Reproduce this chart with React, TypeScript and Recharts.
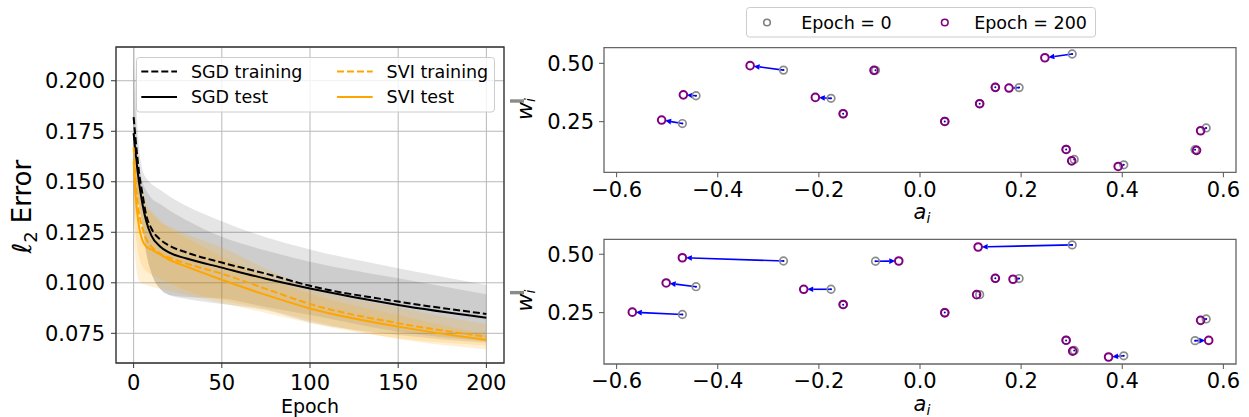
import React from "react";
import {
  ComposedChart,
  ScatterChart,
  Line,
  Area,
  Scatter,
  XAxis,
  YAxis,
  CartesianGrid,
  ReferenceArea,
  ReferenceLine,
  Legend,
} from "recharts";

const FONT = "'DejaVu Sans', 'Liberation Sans', sans-serif";

// ---- left panel: l2 error vs epoch (mean lines and spread bands) ----
const epochs = [0, 1, 2, 3, 5, 7, 10, 15, 20, 30, 50, 75, 100, 150, 200];

const sgdTrain = [0.182, 0.172, 0.163, 0.155, 0.144, 0.134, 0.127, 0.1215, 0.1185, 0.115, 0.11, 0.1045, 0.0985, 0.0907, 0.0846];
const sgdTrainHi = [0.25, 0.205, 0.18, 0.168, 0.156, 0.152, 0.149, 0.146, 0.143, 0.138, 0.1305, 0.1225, 0.1165, 0.1072, 0.0989];
const sgdTrainLo = [0.125, 0.135, 0.14, 0.138, 0.128, 0.115, 0.105, 0.097, 0.094, 0.092, 0.0895, 0.0865, 0.0805, 0.0742, 0.0703];

const sgdTest = [0.174, 0.165, 0.157, 0.15, 0.139, 0.131, 0.1235, 0.118, 0.115, 0.112, 0.1075, 0.102, 0.0972, 0.089, 0.0827];
const sgdTestHi = [0.21, 0.185, 0.17, 0.16, 0.15, 0.146, 0.142, 0.139, 0.136, 0.131, 0.1228, 0.116, 0.1104, 0.1022, 0.0943];
const sgdTestLo = [0.138, 0.145, 0.144, 0.14, 0.128, 0.116, 0.105, 0.097, 0.094, 0.093, 0.0922, 0.088, 0.084, 0.0758, 0.0711];

const sviTrain = [0.167, 0.152, 0.142, 0.135, 0.127, 0.122, 0.118, 0.1145, 0.1125, 0.1095, 0.1045, 0.097, 0.0895, 0.08, 0.0733];
const sviTrainHi = [0.178, 0.165, 0.158, 0.153, 0.146, 0.14, 0.135, 0.13, 0.128, 0.124, 0.1175, 0.107, 0.0975, 0.0878, 0.0795];
const sviTrainLo = [0.14, 0.125, 0.118, 0.113, 0.108, 0.106, 0.104, 0.102, 0.1, 0.096, 0.0915, 0.087, 0.0815, 0.0722, 0.0671];

const sviTest = [0.16, 0.145, 0.135, 0.128, 0.121, 0.118, 0.1165, 0.114, 0.1115, 0.108, 0.1015, 0.094, 0.0873, 0.0783, 0.0717];
const sviTestHi = [0.172, 0.16, 0.152, 0.148, 0.1425, 0.137, 0.135, 0.131, 0.127, 0.122, 0.113, 0.103, 0.0946, 0.0841, 0.0744];
const sviTestLo = [0.13, 0.112, 0.104, 0.101, 0.0995, 0.099, 0.098, 0.097, 0.096, 0.094, 0.09, 0.085, 0.08, 0.0725, 0.069];

const errTicks = [0.075, 0.1, 0.125, 0.15, 0.175, 0.2];
const epochTicks = [0, 50, 100, 150, 200];

// ---- right panels: neuron (a_i, w_i) at epoch 0 and epoch 200 ----
const initA = [-0.27, -0.088, -0.443, -0.176, -0.152, -0.47, 0.049, 0.118, 0.149, 0.196, 0.301, 0.289, 0.305, 0.403, 0.566, 0.544];
const initW = [0.471, 0.47, 0.361, 0.35, 0.284, 0.242, 0.251, 0.327, 0.397, 0.396, 0.54, 0.131, 0.088, 0.065, 0.223, 0.13];

const topA = [-0.336, -0.091, -0.468, -0.207, -0.152, -0.511, 0.049, 0.118, 0.149, 0.176, 0.247, 0.289, 0.3, 0.392, 0.555, 0.547];
const topW = [0.49, 0.47, 0.365, 0.354, 0.284, 0.257, 0.251, 0.327, 0.397, 0.394, 0.524, 0.131, 0.082, 0.058, 0.211, 0.127];

const botA = [-0.47, -0.042, -0.502, -0.23, -0.152, -0.569, 0.049, 0.112, 0.149, 0.184, 0.115, 0.289, 0.302, 0.373, 0.555, 0.571];
const botW = [0.485, 0.471, 0.377, 0.35, 0.285, 0.252, 0.249, 0.327, 0.397, 0.393, 0.531, 0.132, 0.085, 0.06, 0.217, 0.131];

const aTicks = [-0.6, -0.4, -0.2, 0, 0.2, 0.4, 0.6];
const wTicks = [0.25, 0.5];

const LEGEND_ORDER = ["sgdTrain", "sgdTest", "sviTrain", "sviTest"];
const DASH: Record<string, string | undefined> = {
  sgdTrain: "7 3",
  sgdTest: undefined,
  sviTrain: "7 3",
  sviTest: undefined,
};

const X_DOM: [number, number] = [-10, 210];
const Y_DOM: [number, number] = [0.0603, 0.2167];
const A_DOM: [number, number] = [-0.625, 0.625];

const errData = epochs.map((e, i) => ({
  epoch: e,
  sgdTrain: sgdTrain[i],
  sgdTest: sgdTest[i],
  sviTrain: sviTrain[i],
  sviTest: sviTest[i],
  sgdTrainBand: [sgdTrainLo[i], sgdTrainHi[i]],
  sgdTestBand: [sgdTestLo[i], sgdTestHi[i]],
  sviTrainBand: [sviTrainLo[i], sviTrainHi[i]],
  sviTestBand: [sviTestLo[i], sviTestHi[i]],
}));

const initPts = initA.map((a, i) => ({ a, w: initW[i] }));

function LeftLegend({ payload }: any) {
  const items = (payload || [])
    .filter((p: any) => LEGEND_ORDER.includes(p.dataKey))
    .sort((p: any, q: any) => LEGEND_ORDER.indexOf(p.dataKey) - LEGEND_ORDER.indexOf(q.dataKey));
  const cols = [5.3, 201];
  const rows = [14.4, 40];
  return (
    <svg width={360} height={56} style={{ display: "block" }}>
      <rect x={0.5} y={0.5} width={358} height={54.5} rx={3} fill="#fff" fillOpacity={0.8} stroke="#cccccc" />
      {items.map((it: any, i: number) => {
        const cx = cols[Math.floor(i / 2)];
        const cy = rows[i % 2];
        return (
          <g key={i}>
            <line x1={cx} x2={cx + 35.7} y1={cy} y2={cy} stroke={it.color} strokeWidth={2} strokeDasharray={DASH[it.dataKey]} />
            <text x={cx + 49.6} y={cy} dy="0.36em" fontSize={17.5} fill="#000" fontFamily={FONT}>
              {it.value}
            </text>
          </g>
        );
      })}
    </svg>
  );
}

function LeftYLabel({ viewBox }: any) {
  const cx = viewBox.x + 31.5;
  const cy = viewBox.y + viewBox.height / 2 + 1.7;
  return (
    <text x={cx} y={cy} transform={`rotate(-90 ${cx} ${cy})`} textAnchor="middle" fontSize={26} fill="#000" fontFamily={FONT}>
      <tspan fontStyle="italic">ℓ</tspan>
      <tspan dy={6} fontSize={18}>2</tspan>
      <tspan dy={-6}> Error</tspan>
    </text>
  );
}

function LeftXLabel({ viewBox }: any) {
  return (
    <text x={viewBox.x + viewBox.width / 2} y={viewBox.y + 50} textAnchor="middle" fontSize={19} fill="#000" fontFamily={FONT}>
      Epoch
    </text>
  );
}

function ErrorPanel() {
  return (
    <ComposedChart width={520} height={417} data={errData} margin={{ top: 47, right: 16, bottom: 0, left: 0 }}>
      <CartesianGrid stroke="#b8b8b8" strokeWidth={1} />
      <XAxis
        dataKey="epoch"
        type="number"
        domain={X_DOM}
        ticks={epochTicks}
        allowDataOverflow
        height={54}
        axisLine={false}
        tickSize={5}
        tickMargin={7}
        tickLine={{ stroke: "#333" }}
        tick={{ fill: "#000", fontSize: 21 }}
        label={<LeftXLabel />}
      />
      <YAxis
        type="number"
        domain={Y_DOM}
        ticks={errTicks}
        allowDataOverflow
        width={116}
        axisLine={false}
        tickSize={5}
        tickMargin={6}
        tickLine={{ stroke: "#333" }}
        tick={{ fill: "#000", fontSize: 21 }}
        tickFormatter={(v: number) => v.toFixed(3)}
        label={<LeftYLabel />}
      />
      <Area dataKey="sgdTrainBand" type="monotone" stroke="none" fill="#000" fillOpacity={0.1} legendType="none" isAnimationActive={false} activeDot={false} />
      <Area dataKey="sgdTestBand" type="monotone" stroke="none" fill="#000" fillOpacity={0.1} legendType="none" isAnimationActive={false} activeDot={false} />
      <Area dataKey="sviTrainBand" type="monotone" stroke="none" fill="#ffa500" fillOpacity={0.17} legendType="none" isAnimationActive={false} activeDot={false} />
      <Area dataKey="sviTestBand" type="monotone" stroke="none" fill="#ffa500" fillOpacity={0.17} legendType="none" isAnimationActive={false} activeDot={false} />
      <Line dataKey="sgdTrain" name="SGD training" type="monotone" stroke="#000" strokeWidth={2} strokeDasharray={DASH.sgdTrain} dot={false} activeDot={false} isAnimationActive={false} />
      <Line dataKey="sgdTest" name="SGD test" type="monotone" stroke="#000" strokeWidth={2} dot={false} activeDot={false} isAnimationActive={false} />
      <Line dataKey="sviTrain" name="SVI training" type="monotone" stroke="#ffa500" strokeWidth={2} strokeDasharray={DASH.sviTrain} dot={false} activeDot={false} isAnimationActive={false} />
      <Line dataKey="sviTest" name="SVI test" type="monotone" stroke="#ffa500" strokeWidth={2} dot={false} activeDot={false} isAnimationActive={false} />
      <ReferenceArea x1={X_DOM[0]} x2={X_DOM[1]} y1={Y_DOM[0]} y2={Y_DOM[1]} fill="none" stroke="#333" strokeWidth={1.3} ifOverflow="visible" />
      <Legend
        content={<LeftLegend />}
        verticalAlign="middle"
        align="center"
        wrapperStyle={{ left: 135.7, top: 57.3, width: 360, height: 56 }}
      />
    </ComposedChart>
  );
}

function ArrowShape(props: any) {
  const x1 = Number(props.x1), y1 = Number(props.y1);
  const x2 = Number(props.x2), y2 = Number(props.y2);
  const dx = x2 - x1, dy = y2 - y1;
  const full = Math.hypot(dx, dy);
  const len = Math.max(0, full - 3.5);
  const ux = full ? dx / full : 0;
  const uy = full ? dy / full : 0;
  const tx = x1 + ux * len, ty = y1 + uy * len;
  const hl = Math.min(6, len * 0.6);
  const hw = Math.min(2.8, len * 0.3);
  const bx = tx - ux * hl, by = ty - uy * hl;
  return (
    <g>
      <circle cx={x1} cy={y1} r={1} fill="#0000aa" />
      {len > 1 && <line x1={x1} y1={y1} x2={bx} y2={by} stroke="#0000ff" strokeWidth={1.6} />}
      {len > 1 && (
        <polygon points={`${tx},${ty} ${bx - uy * hw},${by + ux * hw} ${bx + uy * hw},${by - ux * hw}`} fill="#0000ff" />
      )}
    </g>
  );
}

const ring = (color: string, w: number) => (p: any) =>
  <circle cx={p.cx} cy={p.cy} r={3.8} fill="none" stroke={color} strokeWidth={w} />;

function RightLegend({ payload }: any) {
  const items = (payload || []).slice().sort((p: any, q: any) => (p.value.length - q.value.length));
  const xs = [21, 198.8];
  const tx = [55.2, 228.2];
  return (
    <svg width={351} height={31} style={{ display: "block" }}>
      <rect x={0.5} y={0.5} width={349} height={29.5} rx={3} fill="#fff" fillOpacity={0.8} stroke="#cccccc" />
      {items.map((it: any, i: number) => (
        <g key={i}>
          <circle cx={xs[i]} cy={15.5} r={3.3} fill="none" stroke={it.color} strokeWidth={1.6} />
          <text x={tx[i]} y={15.5} dy="0.36em" fontSize={17.5} fill="#000" fontFamily={FONT}>
            {it.value}
          </text>
        </g>
      ))}
    </svg>
  );
}

function AXLabel({ viewBox }: any) {
  return (
    <text x={viewBox.x + viewBox.width / 2 + 2} y={viewBox.y + 46.7} textAnchor="middle" fontSize={21} fill="#000" fontFamily={FONT}>
      <tspan fontStyle="italic">a</tspan>
      <tspan fontStyle="italic" fontSize={14} dy={4}>i</tspan>
    </text>
  );
}

function WYLabel({ viewBox }: any) {
  const cx = viewBox.x + 32;
  const cy = viewBox.y + viewBox.height / 2 - 1;
  return (
    <g>
      <rect x={viewBox.x + 10} y={cy - 9.7} width={14} height={3.4} fill="#8a8a8a" />
      <text x={cx} y={cy} transform={`rotate(-90 ${cx} ${cy})`} textAnchor="middle" fontSize={22} fill="#000" fontFamily={FONT}>
        <tspan fontStyle="italic">w</tspan>
        <tspan fontStyle="italic" fontSize={14} dy={3}>i</tspan>
      </text>
    </g>
  );
}

interface WeightPanelProps {
  finalA: number[];
  finalW: number[];
  yDomain: [number, number];
  height: number;
  top: number;
  axisHeight: number;
  tickMargin: number;
  legend?: boolean;
}

function WeightPanel({ finalA, finalW, yDomain, height, top, axisHeight, tickMargin, legend }: WeightPanelProps) {
  const finalPts = finalA.map((a, i) => ({ a, w: finalW[i] }));
  return (
    <ScatterChart width={749} height={height} margin={{ top, right: 13, bottom: 0, left: 0 }}>
      <XAxis
        dataKey="a"
        type="number"
        domain={A_DOM}
        ticks={aTicks}
        allowDataOverflow
        height={axisHeight}
        axisLine={false}
        tickSize={5}
        tickMargin={tickMargin}
        tickLine={{ stroke: "#555" }}
        tick={{ fill: "#000", fontSize: 21 }}
        tickFormatter={(v: number) => (v < 0 ? "\u2212" : "") + Math.abs(v).toFixed(1)}
        label={<AXLabel />}
      />
      <YAxis
        dataKey="w"
        type="number"
        domain={yDomain}
        ticks={wTicks}
        allowDataOverflow
        width={104}
        axisLine={false}
        tickSize={5}
        tickMargin={5}
        tickLine={{ stroke: "#555" }}
        tick={{ fill: "#000", fontSize: 21 }}
        tickFormatter={(v: number) => v.toFixed(2)}
        label={<WYLabel />}
      />
      <Scatter name="Epoch = 0" data={initPts} fill="#808080" shape={ring("#8c8c8c", 1.7)} isAnimationActive={false} />
      {initA.map((a, i) => (
        <ReferenceLine
          key={i}
          segment={[
            { x: a, y: initW[i] },
            { x: finalA[i], y: finalW[i] },
          ]}
          ifOverflow="visible"
          shape={(p: any) => <ArrowShape {...p} />}
        />
      ))}
      <Scatter name="Epoch = 200" data={finalPts} fill="#800080" shape={ring("#800080", 2)} isAnimationActive={false} />
      <ReferenceArea x1={A_DOM[0]} x2={A_DOM[1]} y1={yDomain[0]} y2={yDomain[1]} fill="none" stroke="#666" strokeWidth={1.3} ifOverflow="visible" />
      {legend && (
        <Legend
          content={<RightLegend />}
          verticalAlign="middle"
          align="center"
          wrapperStyle={{ left: 245.8, top: 7.3, width: 351, height: 31 }}
        />
      )}
    </ScatterChart>
  );
}

export default function App() {
  return (
    <div
      style={{
        position: "absolute",
        left: 0,
        top: 0,
        width: 1249,
        height: 417,
        background: "#fff",
        fontFamily: FONT,
        overflow: "hidden",
      }}
    >
      <div style={{ position: "absolute", left: 0, top: 0 }}>
        <ErrorPanel />
      </div>
      <div style={{ position: "absolute", left: 500, top: 0 }}>
        <WeightPanel finalA={topA} finalW={topW} yDomain={[0.033, 0.567]} height={230} top={47.7} axisHeight={57.7} tickMargin={5} legend />
      </div>
      <div style={{ position: "absolute", left: 500, top: 230 }}>
        <WeightPanel finalA={botA} finalW={botW} yDomain={[0.03, 0.564]} height={187} top={9.3} axisHeight={53} tickMargin={4} />
      </div>
    </div>
  );
}
